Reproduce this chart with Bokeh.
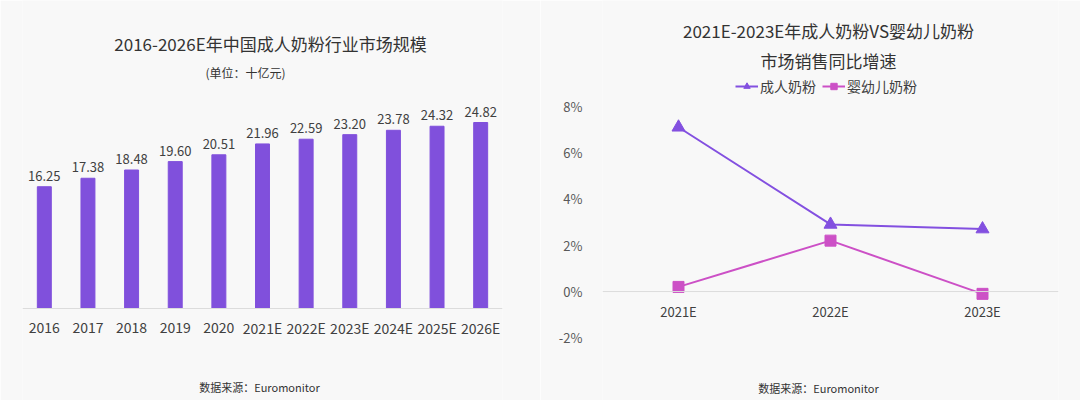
from bokeh.plotting import figure
from bokeh.models import (ColumnDataSource, LabelSet, Label, Legend, LegendItem, Span,
                          FixedTicker, PrintfTickFormatter)
from bokeh.core.properties import value
from bokeh.layouts import row
from bokeh.embed import file_html
from bokeh.resources import INLINE

# ---------------- data ----------------
years = ["2016", "2017", "2018", "2019", "2020", "2021E", "2022E", "2023E", "2024E", "2025E", "2026E"]
market_size = [16.25, 17.38, 18.48, 19.60, 20.51, 21.96, 22.59, 23.20, 23.78, 24.32, 24.82]

growth_years = ["2021E", "2022E", "2023E"]
adult_growth = [7.1, 2.9, 2.7]
infant_growth = [0.2, 2.2, -0.1]
growth_ticks = [-2, 0, 2, 4, 6, 8]

BG = "#f8f8f8"
FONT = "Noto Sans CJK SC"
TXT = "#404040"
TITLE_C = "#333333"
BAR = "#8050dc"
PURPLE = "#8350e0"
MAGENTA = "#cc50c6"
AXIS_C = "#dcdcdc"

# ---------------- left chart ----------------
p1 = figure(width=540, height=400, x_range=years, y_range=(-12.276, 41.10),
            output_backend="svg", toolbar_location=None,
            min_border_left=22, min_border_right=38, min_border_top=0, min_border_bottom=0,
            background_fill_color=BG, border_fill_color=BG, outline_line_color=None)
p1.x_range.range_padding = 0
src1 = ColumnDataSource(dict(x=years, y=market_size, lab=[f"{v:.2f}" for v in market_size]))
p1.vbar(x="x", top="y", width=0.32, source=src1, color=BAR)
p1.add_layout(Span(location=0, dimension="width", line_color=AXIS_C, line_width=1))
p1.add_layout(LabelSet(x="x", y="y", text="lab", source=src1, y_offset=6,
                       text_align="center", text_baseline="bottom",
                       text_font=value(FONT), text_font_size="13px", text_color=TXT))
# category labels (x axis)
p1.add_layout(LabelSet(x="x", y=0, text="x", source=src1, y_offset=-19,
                       text_align="center", text_baseline="middle",
                       text_font=value(FONT), text_font_size="14px", text_color=TXT))
p1.axis.visible = False
p1.grid.visible = False

p1.add_layout(Label(x=5.683, y=35.36, text="2016-2026E年中国成人奶粉行业市场规模",
                    text_align="center", text_baseline="middle", text_font=FONT,
                    text_font_size="17px", text_color=TITLE_C))
p1.add_layout(Label(x=5.11, y=31.49, text="(单位：十亿元)",
                    text_align="center", text_baseline="middle", text_font=FONT,
                    text_font_size="12px", text_color=TITLE_C))
p1.add_layout(Label(x=5.43, y=-10.54, text="数据来源：Euromonitor",
                    text_align="center", text_baseline="middle", text_font=FONT,
                    text_font_size="11px", text_color=TITLE_C))

# ---------------- right chart ----------------
p2 = figure(width=540, height=400, x_range=growth_years, y_range=(-4.71, 12.58),
            output_backend="svg", toolbar_location=None,
            min_border_left=62, min_border_right=22, min_border_top=0, min_border_bottom=0,
            background_fill_color=BG, border_fill_color=BG, outline_line_color=None)
p2.x_range.range_padding = 0
src2 = ColumnDataSource(dict(x=growth_years, adult=adult_growth, infant=infant_growth))
p2.add_layout(Span(location=0, dimension="width", line_color=AXIS_C, line_width=1))
r_a = p2.line("x", "adult", source=src2, line_color=PURPLE, line_width=2)
m_a = p2.scatter("x", "adult", source=src2, marker="triangle", size=13, color=PURPLE)
r_i = p2.line("x", "infant", source=src2, line_color=MAGENTA, line_width=2)
m_i = p2.scatter("x", "infant", source=src2, marker="square", size=11, color=MAGENTA)

p2.grid.visible = False
p2.xaxis.visible = False
p2.yaxis.ticker = FixedTicker(ticks=growth_ticks)
p2.yaxis.formatter = PrintfTickFormatter(format="%d%%")
p2.yaxis.axis_line_color = None
p2.yaxis.major_tick_line_color = None
p2.yaxis.minor_tick_line_color = None
p2.yaxis.major_label_text_font = FONT
p2.yaxis.major_label_text_font_size = "13px"
p2.yaxis.major_label_text_color = "#595959"
p2.yaxis.major_label_standoff = 14

# category labels (x axis, sitting on the zero line)
p2.add_layout(LabelSet(x="x", y=0, text="x", source=src2, y_offset=-20,
                       text_align="center", text_baseline="middle",
                       text_font=value(FONT), text_font_size="13px", text_color=TXT))

legend = Legend(items=[LegendItem(label="成人奶粉", renderers=[r_a, m_a]),
                       LegendItem(label="婴幼儿奶粉", renderers=[r_i, m_i])],
                orientation="horizontal", location=(133, 304),
                label_text_font=FONT, label_text_font_size="14px", label_text_color=TXT,
                glyph_width=23, glyph_height=16, spacing=6, padding=0, margin=0,
                label_standoff=2, background_fill_alpha=0, border_line_color=None)
p2.add_layout(legend)

p2.add_layout(Label(x=1.487, y=11.29, text="2021E-2023E年成人奶粉VS婴幼儿奶粉",
                    text_align="center", text_baseline="middle", text_font=FONT,
                    text_font_size="17px", text_color=TITLE_C))
p2.add_layout(Label(x=1.487, y=9.99, text="市场销售同比增速",
                    text_align="center", text_baseline="middle", text_font=FONT,
                    text_font_size="17px", text_color=TITLE_C))
p2.add_layout(Label(x=1.421, y=-4.15, text="数据来源：Euromonitor",
                    text_align="center", text_baseline="middle", text_font=FONT,
                    text_font_size="11px", text_color=TITLE_C))

layout = row(p1, p2, spacing=0)
open("out.html", "w").write(file_html(layout, INLINE))
